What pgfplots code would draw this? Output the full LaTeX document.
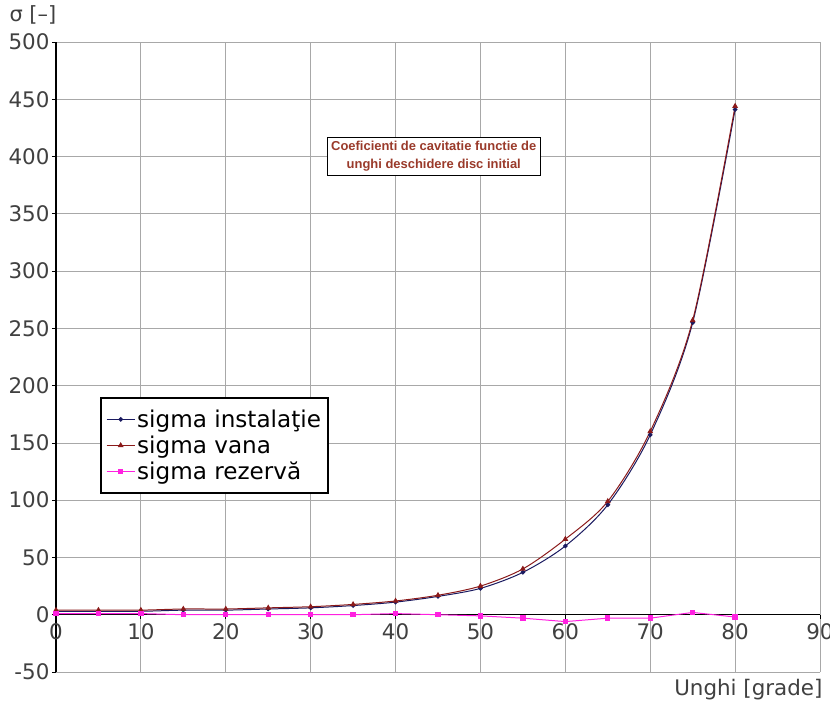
\documentclass[border=0pt]{standalone}
\usepackage{pgfplots}
\pgfplotsset{compat=1.18}
\usepackage{fontspec}
\setmainfont{DejaVu Sans}
\newfontfamily\annfont{Liberation Sans}
\definecolor{gridgray}{HTML}{A8A8A8}
\definecolor{ticktext}{HTML}{404040}
\definecolor{cinst}{HTML}{1A1A60}
\definecolor{cvana}{HTML}{8B1A1A}
\definecolor{crez}{HTML}{FF20E0}
\definecolor{anncol}{HTML}{9A3A2A}
\begin{document}
\begin{tikzpicture}
\useasboundingbox (-56bp,-31bp) rectangle (774bp,672bp);
\begin{axis}[
  at={(0,0)}, anchor=south west,
  scale only axis, width=764bp, height=630bp,
  xmin=0, xmax=90, ymin=-50, ymax=500,
  axis x line=middle, axis y line=left,
  hide obscured x ticks=false,
  axis line style={black, line width=1.2pt, -},
  xtick={0,10,...,90}, ytick={-50,0,50,...,500},
  grid=major, major grid style={gridgray, line width=0.8pt},
  tick style={black, line width=0.8pt},
  major tick length=4bp,
  xtick align=outside, ytick align=outside,
  /pgf/number format/assume math mode=true,
  ticklabel style={font=\fontsize{21.5}{24}\selectfont, text=ticktext},
  xticklabel style={yshift=-1bp},
  yticklabel style={xshift=1bp},
  clip=false,
  legend style={at={(0.0576,0.437)}, anchor=north west,
    draw=black, line width=2.4pt, fill=white,
    font=\fontsize{23.2}{25}\selectfont, text=black,
    inner xsep=5bp, inner ysep=10bp, row sep=3bp,
    /tikz/every even column/.append style={column sep=9bp}},
  legend image post style={line width=1pt},
  legend image code/.code={\draw[mark repeat=2,mark phase=2] plot coordinates {(0bp,0bp) (14bp,0bp) (28bp,0bp)};},
  legend cell align=left,
]
\addplot[cinst, line width=1pt, smooth, mark=*, mark size=1.8pt, mark options={fill=cinst}] coordinates {
(0,3) (5,3) (10,3) (15,4) (20,4) (25,5) (30,6) (35,8) (40,11) (45,16) (50,23) (55,37) (60,60) (65,96) (70,157) (75,255) (80,441)};
\addlegendentry{sigma instala\c{t}ie}
\addplot[cvana, line width=1pt, smooth, mark=triangle*, mark size=2.4pt, mark options={fill=cvana}] coordinates {
(0,4) (5,4) (10,4) (15,5) (20,5) (25,6) (30,7) (35,9) (40,12) (45,17) (50,25) (55,40) (60,66) (65,99) (70,160) (75,257) (80,444)};
\addlegendentry{sigma vana}
\addplot[crez, line width=1pt, mark=square*, mark size=2.2pt, mark options={fill=crez}] coordinates {
(0,1) (5,1) (10,1) (15,0) (20,0) (25,0) (30,0) (35,0) (40,1) (45,0) (50,-1) (55,-3) (60,-6) (65,-3) (70,-3) (75,2) (80,-2)};
\addlegendentry{sigma rezerv\u{a}}
\node[draw=black, line width=0.8pt, fill=white, align=center, text=anncol,
  font=\annfont\bfseries\fontsize{13}{18}\selectfont, inner xsep=4bp, inner ysep=4bp]
  at (axis cs:44.5,400) {Coeficienti de cavitatie functie de\\unghi deschidere disc initial};
\end{axis}
\node[anchor=west, font=\fontsize{21}{24}\selectfont, text=ticktext] at (-50bp,657bp) {σ [–]};
\node[anchor=south east, font=\fontsize{21.5}{24}\selectfont, text=ticktext] at (770bp,-31bp) {Unghi [grade]};
\end{tikzpicture}
\end{document}
